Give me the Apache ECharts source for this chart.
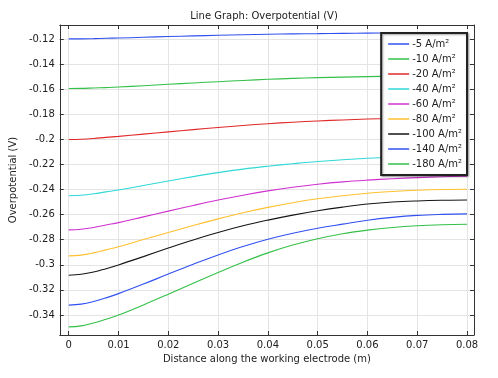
<!DOCTYPE html>
<html>
<head>
<meta charset="utf-8">
<script src="https://cdn.jsdelivr.net/npm/echarts@6/dist/echarts.min.js"></script>
<style>
  html, body { margin: 0; padding: 0; background: #fff; }
  #chart { width: 498px; height: 378px; }
</style>
</head>
<body>
<div id="chart"></div>
<script>
// distance along the electrode (m)
var xs = [0, 0.0025, 0.005, 0.0075, 0.01, 0.015, 0.02, 0.025, 0.03, 0.035, 0.04, 0.045, 0.05, 0.055, 0.06, 0.065, 0.07, 0.075, 0.08];
var names = ['-5 A/m²', '-10 A/m²', '-20 A/m²', '-40 A/m²', '-60 A/m²', '-80 A/m²', '-100 A/m²', '-140 A/m²', '-180 A/m²'];
var colors = ['#3050f0', '#33c048', '#e02828', '#30d8d8', '#d030d0', '#ffc030', '#151515', '#3050f0', '#33c048'];
// overpotential (V) per current density
var eta5   = [-0.1199, -0.1199, -0.1197, -0.1194, -0.1192, -0.1186, -0.1180, -0.1175, -0.1170, -0.1166, -0.1162, -0.1159, -0.1157, -0.1155, -0.1153, -0.1151, -0.1150, -0.1149, -0.1149];
var eta10  = [-0.1594, -0.1593, -0.1590, -0.1587, -0.1583, -0.1572, -0.1561, -0.1550, -0.1540, -0.1530, -0.1521, -0.1514, -0.1508, -0.1504, -0.1500, -0.1496, -0.1493, -0.1491, -0.1490];
var eta20  = [-0.2001, -0.1999, -0.1993, -0.1984, -0.1976, -0.1958, -0.1940, -0.1922, -0.1905, -0.1889, -0.1875, -0.1863, -0.1853, -0.1845, -0.1838, -0.1833, -0.1829, -0.1826, -0.1824];
var eta40  = [-0.2449, -0.2445, -0.2434, -0.2419, -0.2404, -0.2368, -0.2332, -0.2297, -0.2265, -0.2237, -0.2214, -0.2194, -0.2176, -0.2162, -0.2151, -0.2142, -0.2135, -0.2130, -0.2127];
var eta60  = [-0.2722, -0.2717, -0.2703, -0.2683, -0.2664, -0.2618, -0.2572, -0.2527, -0.2484, -0.2445, -0.2411, -0.2382, -0.2358, -0.2339, -0.2325, -0.2314, -0.2305, -0.2298, -0.2294];
var eta80  = [-0.2929, -0.2923, -0.2905, -0.2881, -0.2857, -0.2799, -0.2742, -0.2687, -0.2634, -0.2585, -0.2542, -0.2505, -0.2474, -0.2449, -0.2430, -0.2416, -0.2406, -0.2400, -0.2398];
var eta100 = [-0.3083, -0.3076, -0.3058, -0.3031, -0.3001, -0.2935, -0.2867, -0.2802, -0.2742, -0.2689, -0.2644, -0.2604, -0.2569, -0.2540, -0.2516, -0.2500, -0.2491, -0.2486, -0.2484];
var eta140 = [-0.3322, -0.3314, -0.3293, -0.3264, -0.3230, -0.3154, -0.3074, -0.2996, -0.2922, -0.2855, -0.2797, -0.2749, -0.2709, -0.2676, -0.2645, -0.2622, -0.2606, -0.2598, -0.2594];
var eta180 = [-0.3495, -0.3487, -0.3464, -0.3434, -0.3401, -0.3320, -0.3235, -0.3148, -0.3061, -0.2979, -0.2905, -0.2843, -0.2793, -0.2753, -0.2724, -0.2703, -0.2689, -0.2681, -0.2677];
var allEta = [eta5, eta10, eta20, eta40, eta60, eta80, eta100, eta140, eta180];

var font = 'DejaVu Sans';
var series = allEta.map(function (arr, i) {
    return {
        name: names[i],
        type: 'line',
        smooth: 0.4,
        symbol: 'none',
        xAxisIndex: 0,
        yAxisIndex: 0,
        lineStyle: {width: 1.1, color: colors[i]},
        itemStyle: {color: colors[i]},
        data: xs.map(function (x, j) { return [x, arr[j]]; })
    };
});

var xRange = {min: -0.0018, max: 0.0814};
var yRange = {min: -0.356, max: -0.1088};
var tickStyle = {inside: true, length: 4, lineStyle: {color: '#333'}};

function xAx(pos, show) {
    return {
        type: 'value', position: pos, min: xRange.min, max: xRange.max, splitNumber: 8,
        name: show ? 'Distance along the working electrode (m)' : '',
        nameLocation: 'middle', nameGap: 10,
        nameTextStyle: {fontFamily: font, fontSize: 10, color: '#222'},
        axisLine: {show: true, onZero: false, lineStyle: {color: '#333'}},
        axisTick: tickStyle,
        axisLabel: {show: show, showMinLabel: false, showMaxLabel: false, margin: 5,
            fontFamily: font, fontSize: 10, color: '#222'},
        splitLine: {show: show, lineStyle: {color: '#e4e4e4'}}
    };
}
function yAx(pos, show) {
    return {
        type: 'value', position: pos, min: yRange.min, max: yRange.max, splitNumber: 12,
        name: show ? 'Overpotential (V)' : '',
        nameLocation: 'middle', nameGap: 37,
        nameTextStyle: {fontFamily: font, fontSize: 10, color: '#222'},
        axisLine: {show: true, onZero: false, lineStyle: {color: '#333'}},
        axisTick: tickStyle,
        axisLabel: {show: show, showMinLabel: false, showMaxLabel: false, margin: 5,
            fontFamily: font, fontSize: 10, color: '#222'},
        splitLine: {show: show, lineStyle: {color: '#e4e4e4'}}
    };
}

var chart = echarts.init(document.getElementById('chart'), null, {renderer: 'canvas'});
chart.setOption({
    animation: false,
    backgroundColor: '#fff',
    title: {
        text: 'Line Graph: Overpotential (V)',
        left: 259, top: 6, textAlign: 'center',
        textStyle: {fontFamily: font, fontSize: 10, fontWeight: 'normal', color: '#222'}
    },
    grid: {left: 45, right: 24, top: 25, bottom: 43},
    xAxis: [xAx('bottom', true), xAx('top', false)],
    yAxis: [yAx('left', true), yAx('right', false)],
    legend: {
        data: names,
        orient: 'vertical',
        icon: 'rect',
        right: 31, top: 33,
        padding: [5, 5, 5, 7],
        itemWidth: 21, itemHeight: 1.5, itemGap: 3,
        backgroundColor: '#fff',
        borderColor: '#222', borderWidth: 2,
        shadowColor: 'rgba(0,0,0,0.35)', shadowBlur: 2, shadowOffsetX: 1, shadowOffsetY: 1,
        textStyle: {fontFamily: font, fontSize: 10, lineHeight: 12, color: '#222', padding: [0, 0, 0, -2]}
    },
    series: series
});
</script>
</body>
</html>
